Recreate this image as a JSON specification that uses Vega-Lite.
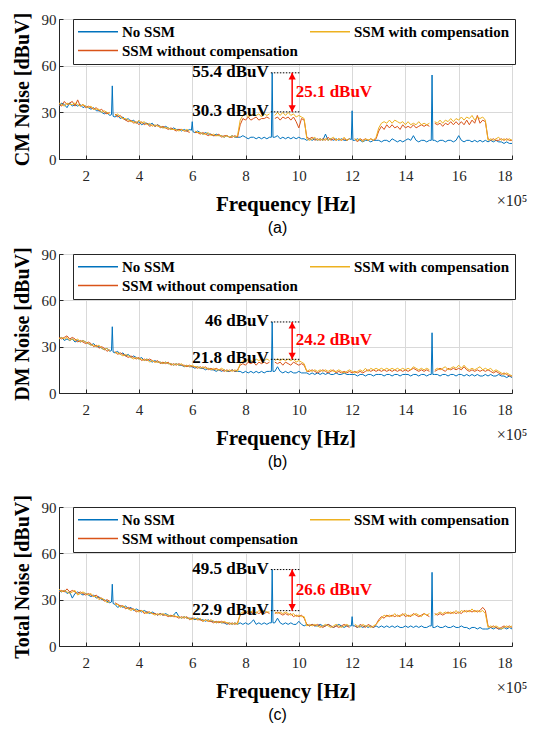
{
"$schema": "https://vega.github.io/schema/vega-lite/v6.json",
"padding": {"left": 11, "top": 11, "right": 2, "bottom": 2},
"config": {
  "font": "Liberation Serif",
  "view": {"stroke": "#262626", "strokeWidth": 1},
  "axis": {"labelFont": "Liberation Serif", "labelFontSize": 15, "labelColor": "#262626", "titleFont": "Liberation Serif", "titleFontWeight": "bold", "titleFontSize": 20, "titleColor": "#000000", "gridColor": "#d9d9d9", "gridWidth": 1, "domainColor": "#262626", "tickColor": "#262626", "tickSize": -4},
  "title": {"font": "Liberation Sans", "fontSize": 16, "fontWeight": "normal", "orient": "bottom", "anchor": "middle", "color": "#000000", "offset": 6, "dx": -8},
  "legend": {"orient": "none", "legendX": 14, "legendY": 0, "direction": "horizontal", "columns": 2, "symbolType": "M-20,0H20", "symbolSize": 4, "symbolOffset": 12.5, "symbolStrokeWidth": 1.5, "labelFont": "Liberation Serif", "labelFontWeight": "bold", "labelFontSize": 15, "labelColor": "#000000", "labelLimit": 300, "labelOffset": 16.5, "fillColor": "#ffffff", "strokeColor": "#262626", "padding": 5, "columnPadding": 9, "rowPadding": 3, "title": null}
},
"datasets": {
"a": [
{"f":1,"n":34,"o":35,"w":36},{"f":1.1,"n":36,"o":34,"w":35},{"f":1.2,"n":35,"o":37,"w":34},{"f":1.3,"n":33,"o":35,"w":36},{"f":1.4,"n":36,"o":36,"w":35},
{"f":1.5,"n":34,"o":37,"w":35},{"f":1.6,"n":35,"o":34,"w":36},{"f":1.7,"n":34,"o":38,"w":35},{"f":1.8,"n":35,"o":34,"w":34},{"f":1.9,"n":33,"o":35,"w":35},
{"f":2,"n":34,"o":33,"w":34},{"f":2.1,"n":33,"o":34,"w":33},{"f":2.2,"n":32,"o":33,"w":34},{"f":2.3,"n":33,"o":32,"w":32},{"f":2.4,"n":31,"o":33,"w":32},
{"f":2.5,"n":31,"o":31,"w":32},{"f":2.6,"n":30,"o":32,"w":30},{"f":2.7,"n":29,"o":30,"w":31},{"f":2.8,"n":30,"o":29,"w":30},{"f":2.9,"n":28,"o":30,"w":29},
{"f":3,"n":47,"o":28,"w":29},{"f":3.1,"n":27,"o":29,"w":28},{"f":3.2,"n":28,"o":27,"w":29},{"f":3.3,"n":26,"o":28,"w":27},{"f":3.4,"n":27,"o":26,"w":26},
{"f":3.5,"n":25,"o":25,"w":26},{"f":3.6,"n":26,"o":24,"w":25},{"f":3.7,"n":24,"o":25,"w":24},{"f":3.8,"n":25,"o":23,"w":24},{"f":3.9,"n":23,"o":24,"w":23},
{"f":4,"n":24,"o":22,"w":25},{"f":4.1,"n":22,"o":24,"w":23},{"f":4.2,"n":23,"o":22,"w":24},{"f":4.3,"n":23,"o":23,"w":22},{"f":4.4,"n":22,"o":21,"w":23},
{"f":4.5,"n":23,"o":22,"w":21},{"f":4.6,"n":21,"o":21,"w":22},{"f":4.7,"n":22,"o":22,"w":21},{"f":4.8,"n":21,"o":20,"w":21},{"f":4.9,"n":20,"o":21,"w":20},
{"f":5,"n":21,"o":20,"w":20},{"f":5.1,"n":20,"o":19,"w":20},{"f":5.2,"n":19,"o":20,"w":19},{"f":5.3,"n":20,"o":19,"w":19},{"f":5.4,"n":19,"o":18,"w":19},
{"f":5.5,"n":19,"o":19,"w":18},{"f":5.6,"n":18,"o":19,"w":19},{"f":5.7,"n":19,"o":18,"w":18},{"f":5.8,"n":18,"o":18,"w":19},{"f":5.9,"n":19,"o":17,"w":18},
{"f":6,"n":24,"o":18,"w":17},{"f":6.1,"n":17,"o":17,"w":18},{"f":6.2,"n":18,"o":17,"w":17},{"f":6.3,"n":17,"o":16,"w":17},{"f":6.4,"n":16,"o":17,"w":16},
{"f":6.5,"n":17,"o":16,"w":16},{"f":6.6,"n":16,"o":15,"w":17},{"f":6.7,"n":16,"o":16,"w":15},{"f":6.8,"n":15,"o":15,"w":16},{"f":6.9,"n":16,"o":15,"w":15},
{"f":7,"n":15,"o":16,"w":15},{"f":7.1,"n":15,"o":14,"w":15},{"f":7.2,"n":14,"o":15,"w":14},{"f":7.3,"n":15,"o":15,"w":15},{"f":7.4,"n":14,"o":14,"w":14},
{"f":7.5,"n":15,"o":14,"w":15},{"f":7.6,"n":14,"o":15,"w":14},{"f":7.7,"n":14,"o":14,"w":15},{"f":7.8,"n":14,"o":22,"w":25},{"f":7.9,"n":15,"o":26,"w":28},
{"f":8,"n":14,"o":25,"w":29},{"f":8.1,"n":13,"o":27,"w":27},{"f":8.2,"n":14,"o":25,"w":28},{"f":8.3,"n":14,"o":26,"w":29},{"f":8.4,"n":13,"o":27,"w":28},
{"f":8.5,"n":14,"o":25,"w":29},{"f":8.6,"n":13,"o":26,"w":27},{"f":8.7,"n":14,"o":26,"w":29},{"f":8.8,"n":13,"o":27,"w":28},{"f":8.9,"n":14,"o":26,"w":29},
{"f":9,"n":55.4,"o":27,"w":30},{"f":9.1,"n":14,"o":26,"w":28},{"f":9.2,"n":15,"o":27,"w":30},{"f":9.3,"n":13,"o":25,"w":28},{"f":9.4,"n":14,"o":27,"w":30},
{"f":9.5,"n":13,"o":26,"w":28},{"f":9.6,"n":14,"o":27,"w":30},{"f":9.7,"n":13,"o":25,"w":28},{"f":9.8,"n":14,"o":27,"w":29},{"f":9.9,"n":13,"o":24,"w":27},
{"f":10,"n":14,"o":20,"w":28},{"f":10.1,"n":13,"o":26,"w":27},{"f":10.2,"n":13,"o":25,"w":26},{"f":10.3,"n":12,"o":14,"w":13},{"f":10.4,"n":13,"o":13,"w":12},
{"f":10.5,"n":12,"o":14,"w":13},{"f":10.6,"n":13,"o":12,"w":14},{"f":10.7,"n":12,"o":13,"w":12},{"f":10.8,"n":13,"o":12,"w":13},{"f":10.9,"n":12,"o":13,"w":12},
{"f":11,"n":16,"o":12,"w":13},{"f":11.1,"n":12,"o":14,"w":12},{"f":11.2,"n":13,"o":12,"w":13},{"f":11.3,"n":12,"o":13,"w":14},{"f":11.4,"n":13,"o":12,"w":12},
{"f":11.5,"n":12,"o":13,"w":13},{"f":11.6,"n":13,"o":12,"w":12},{"f":11.7,"n":12,"o":13,"w":14},{"f":11.8,"n":12,"o":12,"w":12},{"f":11.9,"n":13,"o":13,"w":13},
{"f":12,"n":31,"o":12,"w":12},{"f":12.1,"n":12,"o":13,"w":13},{"f":12.2,"n":13,"o":11,"w":12},{"f":12.3,"n":12,"o":13,"w":13},{"f":12.4,"n":11,"o":12,"w":11},
{"f":12.5,"n":12,"o":13,"w":13},{"f":12.6,"n":12,"o":12,"w":12},{"f":12.7,"n":11,"o":13,"w":13},{"f":12.8,"n":12,"o":12,"w":12},{"f":12.9,"n":12,"o":13,"w":14},
{"f":13,"n":12,"o":18,"w":20},{"f":13.1,"n":11,"o":21,"w":23},{"f":13.2,"n":12,"o":19,"w":24},{"f":13.3,"n":12,"o":22,"w":23},{"f":13.4,"n":11,"o":20,"w":25},
{"f":13.5,"n":13,"o":22,"w":23},{"f":13.6,"n":12,"o":20,"w":25},{"f":13.7,"n":11,"o":21,"w":24},{"f":13.8,"n":12,"o":19,"w":23},{"f":13.9,"n":11,"o":22,"w":24},
{"f":14,"n":12,"o":20,"w":22},{"f":14.1,"n":13,"o":21,"w":24},{"f":14.2,"n":12,"o":20,"w":22},{"f":14.3,"n":15,"o":22,"w":23},{"f":14.4,"n":12,"o":20,"w":22},
{"f":14.5,"n":11,"o":21,"w":24},{"f":14.6,"n":12,"o":22,"w":22},{"f":14.7,"n":12,"o":21,"w":23},{"f":14.8,"n":11,"o":22,"w":22},{"f":14.9,"n":12,"o":21,"w":23},
{"f":15,"n":54,"o":22,"w":22},{"f":15.1,"n":12,"o":23,"w":24},{"f":15.2,"n":11,"o":22,"w":23},{"f":15.3,"n":12,"o":23,"w":25},{"f":15.4,"n":12,"o":21,"w":23},
{"f":15.5,"n":11,"o":23,"w":25},{"f":15.6,"n":12,"o":22,"w":24},{"f":15.7,"n":12,"o":24,"w":26},{"f":15.8,"n":11,"o":22,"w":24},{"f":15.9,"n":12,"o":24,"w":26},
{"f":16,"n":15,"o":22,"w":25},{"f":16.1,"n":12,"o":24,"w":27},{"f":16.2,"n":11,"o":22,"w":25},{"f":16.3,"n":12,"o":25,"w":27},{"f":16.4,"n":12,"o":22,"w":26},
{"f":16.5,"n":11,"o":25,"w":28},{"f":16.6,"n":12,"o":23,"w":25},{"f":16.7,"n":11,"o":28,"w":27},{"f":16.8,"n":12,"o":23,"w":26},{"f":16.9,"n":11,"o":25,"w":27},
{"f":17,"n":12,"o":24,"w":25},{"f":17.1,"n":11,"o":13,"w":12},{"f":17.2,"n":12,"o":12,"w":13},{"f":17.3,"n":11,"o":13,"w":12},{"f":17.4,"n":12,"o":12,"w":13},
{"f":17.5,"n":11,"o":12,"w":14},{"f":17.6,"n":11,"o":13,"w":12},{"f":17.7,"n":10,"o":12,"w":13},{"f":17.8,"n":11,"o":13,"w":12},{"f":17.9,"n":10,"o":12,"w":13},
{"f":18,"n":10,"o":12,"w":12},
{"f":2.97,"n":28.5},{"f":3.03,"n":27.5},{"f":5.97,"n":18.5},{"f":6.03,"n":17.5},{"f":8.97,"n":14},{"f":9.03,"n":14},{"f":11.97,"n":12.5},{"f":12.03,"n":12},{"f":14.97,"n":12},{"f":15.03,"n":12}
],
"b": [
{"f":1,"n":35,"o":36,"w":35},{"f":1.1,"n":36,"o":35,"w":36},{"f":1.2,"n":34,"o":36,"w":35},{"f":1.3,"n":35,"o":37,"w":36},{"f":1.4,"n":34,"o":35,"w":34},
{"f":1.5,"n":35,"o":36,"w":35},{"f":1.6,"n":33,"o":35,"w":34},{"f":1.7,"n":34,"o":33,"w":35},{"f":1.8,"n":33,"o":34,"w":33},{"f":1.9,"n":34,"o":33,"w":34},
{"f":2,"n":33,"o":32,"w":33},{"f":2.1,"n":32,"o":33,"w":32},{"f":2.2,"n":31,"o":32,"w":31},{"f":2.3,"n":32,"o":30,"w":31},{"f":2.4,"n":30,"o":31,"w":30},
{"f":2.5,"n":30,"o":29,"w":31},{"f":2.6,"n":29,"o":30,"w":29},{"f":2.7,"n":28,"o":29,"w":28},{"f":2.8,"n":29,"o":27,"w":29},{"f":2.9,"n":27,"o":28,"w":27},
{"f":3,"n":42.9,"o":27,"w":28},{"f":3.1,"n":26,"o":27,"w":26},{"f":3.2,"n":27,"o":25,"w":26},{"f":3.3,"n":25,"o":26,"w":25},{"f":3.4,"n":26,"o":25,"w":24},
{"f":3.5,"n":24,"o":24,"w":25},{"f":3.6,"n":25,"o":23,"w":24},{"f":3.7,"n":23,"o":24,"w":23},{"f":3.8,"n":24,"o":23,"w":22},{"f":3.9,"n":23,"o":22,"w":23},
{"f":4,"n":22,"o":23,"w":22},{"f":4.1,"n":23,"o":21,"w":22},{"f":4.2,"n":21,"o":22,"w":21},{"f":4.3,"n":22,"o":21,"w":22},{"f":4.4,"n":21,"o":22,"w":20},
{"f":4.5,"n":20,"o":21,"w":21},{"f":4.6,"n":21,"o":20,"w":20},{"f":4.7,"n":20,"o":21,"w":20},{"f":4.8,"n":20,"o":19,"w":20},{"f":4.9,"n":19,"o":20,"w":19},
{"f":5,"n":20,"o":19,"w":20},{"f":5.1,"n":19,"o":20,"w":19},{"f":5.2,"n":19,"o":18,"w":19},{"f":5.3,"n":18,"o":19,"w":18},{"f":5.4,"n":19,"o":18,"w":19},
{"f":5.5,"n":18,"o":19,"w":18},{"f":5.6,"n":18,"o":18,"w":19},{"f":5.7,"n":17,"o":18,"w":17},{"f":5.8,"n":18,"o":17,"w":18},{"f":5.9,"n":17,"o":18,"w":17},
{"f":6,"n":17,"o":17,"w":18},{"f":6.1,"n":16,"o":17,"w":17},{"f":6.2,"n":17,"o":16,"w":17},{"f":6.3,"n":16,"o":17,"w":16},{"f":6.4,"n":16,"o":16,"w":17},
{"f":6.5,"n":15,"o":17,"w":16},{"f":6.6,"n":16,"o":15,"w":16},{"f":6.7,"n":15,"o":16,"w":15},{"f":6.8,"n":15,"o":15,"w":16},{"f":6.9,"n":14,"o":16,"w":15},
{"f":7,"n":15,"o":15,"w":15},{"f":7.1,"n":14,"o":15,"w":16},{"f":7.2,"n":15,"o":14,"w":15},{"f":7.3,"n":14,"o":15,"w":14},{"f":7.4,"n":14,"o":14,"w":15},
{"f":7.5,"n":15,"o":15,"w":14},{"f":7.6,"n":14,"o":14,"w":15},{"f":7.7,"n":14,"o":15,"w":14},{"f":7.8,"n":14,"o":18,"w":19},{"f":7.9,"n":13,"o":19,"w":21},
{"f":8,"n":14,"o":18,"w":20},{"f":8.1,"n":13,"o":20,"w":22},{"f":8.2,"n":14,"o":19,"w":21},{"f":8.3,"n":13,"o":20,"w":20},{"f":8.4,"n":14,"o":18,"w":22},
{"f":8.5,"n":13,"o":20,"w":21},{"f":8.6,"n":14,"o":19,"w":22},{"f":8.7,"n":13,"o":20,"w":21},{"f":8.8,"n":14,"o":19,"w":22},{"f":8.9,"n":14,"o":20,"w":21},
{"f":9,"n":46,"o":19,"w":22},{"f":9.1,"n":14,"o":20,"w":21},{"f":9.2,"n":17,"o":19,"w":22},{"f":9.3,"n":14,"o":20,"w":21},{"f":9.4,"n":13,"o":18,"w":22},
{"f":9.5,"n":14,"o":20,"w":21},{"f":9.6,"n":13,"o":19,"w":22},{"f":9.7,"n":14,"o":18,"w":21},{"f":9.8,"n":13,"o":20,"w":22},{"f":9.9,"n":13,"o":19,"w":20},
{"f":10,"n":14,"o":18,"w":21},{"f":10.1,"n":13,"o":19,"w":20},{"f":10.2,"n":13,"o":18,"w":19},{"f":10.3,"n":13,"o":14,"w":14},{"f":10.4,"n":12,"o":14,"w":15},
{"f":10.5,"n":13,"o":15,"w":14},{"f":10.6,"n":12,"o":14,"w":15},{"f":10.7,"n":13,"o":13,"w":14},{"f":10.8,"n":12,"o":14,"w":15},{"f":10.9,"n":13,"o":15,"w":14},
{"f":11,"n":12,"o":14,"w":15},{"f":11.1,"n":13,"o":13,"w":14},{"f":11.2,"n":12,"o":14,"w":15},{"f":11.3,"n":12,"o":15,"w":14},{"f":11.4,"n":13,"o":13,"w":14},
{"f":11.5,"n":12,"o":14,"w":15},{"f":11.6,"n":12,"o":13,"w":14},{"f":11.7,"n":13,"o":14,"w":13},{"f":11.8,"n":12,"o":13,"w":14},{"f":11.9,"n":12,"o":14,"w":15},
{"f":12,"n":12,"o":13,"w":14},{"f":12.1,"n":12,"o":14,"w":13},{"f":12.2,"n":11,"o":13,"w":14},{"f":12.3,"n":12,"o":14,"w":15},{"f":12.4,"n":12,"o":13,"w":14},
{"f":12.5,"n":11,"o":14,"w":16},{"f":12.6,"n":12,"o":15,"w":14},{"f":12.7,"n":12,"o":14,"w":16},{"f":12.8,"n":11,"o":15,"w":15},{"f":12.9,"n":12,"o":14,"w":16},
{"f":13,"n":12,"o":15,"w":15},{"f":13.1,"n":12,"o":14,"w":16},{"f":13.2,"n":11,"o":15,"w":15},{"f":13.3,"n":12,"o":14,"w":16},{"f":13.4,"n":12,"o":15,"w":15},
{"f":13.5,"n":11,"o":14,"w":16},{"f":13.6,"n":12,"o":15,"w":15},{"f":13.7,"n":12,"o":14,"w":16},{"f":13.8,"n":11,"o":15,"w":15},{"f":13.9,"n":12,"o":14,"w":16},
{"f":14,"n":12,"o":15,"w":15},{"f":14.1,"n":12,"o":14,"w":16},{"f":14.2,"n":11,"o":15,"w":15},{"f":14.3,"n":12,"o":16,"w":17},{"f":14.4,"n":12,"o":15,"w":16},
{"f":14.5,"n":11,"o":14,"w":15},{"f":14.6,"n":12,"o":15,"w":16},{"f":14.7,"n":12,"o":14,"w":15},{"f":14.8,"n":11,"o":15,"w":16},{"f":14.9,"n":12,"o":14,"w":15},
{"f":15,"n":39,"o":15,"w":16},{"f":15.1,"n":12,"o":14,"w":15},{"f":15.2,"n":12,"o":15,"w":16},{"f":15.3,"n":11,"o":16,"w":15},{"f":15.4,"n":12,"o":15,"w":16},
{"f":15.5,"n":12,"o":14,"w":17},{"f":15.6,"n":11,"o":16,"w":15},{"f":15.7,"n":12,"o":15,"w":16},{"f":15.8,"n":12,"o":16,"w":17},{"f":15.9,"n":11,"o":15,"w":16},
{"f":16,"n":12,"o":16,"w":18},{"f":16.1,"n":12,"o":15,"w":16},{"f":16.2,"n":11,"o":17,"w":18},{"f":16.3,"n":12,"o":15,"w":16},{"f":16.4,"n":11,"o":14,"w":15},
{"f":16.5,"n":12,"o":15,"w":16},{"f":16.6,"n":11,"o":14,"w":15},{"f":16.7,"n":12,"o":15,"w":16},{"f":16.8,"n":11,"o":14,"w":17},{"f":16.9,"n":11,"o":15,"w":15},
{"f":17,"n":12,"o":14,"w":16},{"f":17.1,"n":11,"o":15,"w":15},{"f":17.2,"n":12,"o":14,"w":16},{"f":17.3,"n":11,"o":13,"w":14},{"f":17.4,"n":11,"o":14,"w":15},
{"f":17.5,"n":12,"o":13,"w":14},{"f":17.6,"n":11,"o":12,"w":13},{"f":17.7,"n":11,"o":13,"w":12},{"f":17.8,"n":10,"o":12,"w":13},{"f":17.9,"n":11,"o":11,"w":12},
{"f":18,"n":10,"o":11,"w":11},
{"f":2.97,"n":27.5},{"f":3.03,"n":26.5},{"f":8.97,"n":14},{"f":9.03,"n":14},{"f":14.97,"n":12},{"f":15.03,"n":12}
],
"c": [
{"f":1,"n":36,"o":35,"w":37},{"f":1.1,"n":35,"o":36,"w":35},{"f":1.2,"n":36,"o":35,"w":36},{"f":1.3,"n":34,"o":37,"w":35},{"f":1.4,"n":35,"o":35,"w":34},
{"f":1.5,"n":31,"o":36,"w":35},{"f":1.6,"n":34,"o":35,"w":36},{"f":1.7,"n":35,"o":34,"w":33},{"f":1.8,"n":34,"o":35,"w":34},{"f":1.9,"n":33,"o":34,"w":35},
{"f":2,"n":34,"o":33,"w":34},{"f":2.1,"n":33,"o":34,"w":33},{"f":2.2,"n":32,"o":33,"w":34},{"f":2.3,"n":33,"o":32,"w":32},{"f":2.4,"n":31,"o":33,"w":32},
{"f":2.5,"n":32,"o":31,"w":30},{"f":2.6,"n":30,"o":31,"w":31},{"f":2.7,"n":30,"o":29,"w":30},{"f":2.8,"n":29,"o":30,"w":28},{"f":2.9,"n":28,"o":29,"w":29},
{"f":3,"n":40,"o":28,"w":28},{"f":3.1,"n":27,"o":28,"w":27},{"f":3.2,"n":25,"o":27,"w":27},{"f":3.3,"n":26,"o":26,"w":25},{"f":3.4,"n":25,"o":26,"w":26},
{"f":3.5,"n":26,"o":24,"w":25},{"f":3.6,"n":24,"o":25,"w":24},{"f":3.7,"n":25,"o":24,"w":23},{"f":3.8,"n":23,"o":24,"w":24},{"f":3.9,"n":24,"o":22,"w":23},
{"f":4,"n":23,"o":23,"w":22},{"f":4.1,"n":22,"o":23,"w":23},{"f":4.2,"n":23,"o":21,"w":22},{"f":4.3,"n":22,"o":22,"w":21},{"f":4.4,"n":21,"o":22,"w":22},
{"f":4.5,"n":22,"o":21,"w":21},{"f":4.6,"n":21,"o":21,"w":20},{"f":4.7,"n":20,"o":20,"w":21},{"f":4.8,"n":21,"o":21,"w":20},{"f":4.9,"n":20,"o":20,"w":21},
{"f":5,"n":21,"o":20,"w":20},{"f":5.1,"n":20,"o":19,"w":20},{"f":5.2,"n":19,"o":20,"w":19},{"f":5.3,"n":20,"o":19,"w":20},{"f":5.4,"n":22,"o":19,"w":19},
{"f":5.5,"n":19,"o":18,"w":19},{"f":5.6,"n":18,"o":19,"w":18},{"f":5.7,"n":19,"o":18,"w":19},{"f":5.8,"n":18,"o":19,"w":18},{"f":5.9,"n":18,"o":17,"w":18},
{"f":6,"n":18,"o":18,"w":17},{"f":6.1,"n":17,"o":18,"w":18},{"f":6.2,"n":18,"o":17,"w":17},{"f":6.3,"n":17,"o":17,"w":18},{"f":6.4,"n":17,"o":16,"w":16},
{"f":6.5,"n":16,"o":17,"w":17},{"f":6.6,"n":17,"o":16,"w":16},{"f":6.7,"n":16,"o":16,"w":17},{"f":6.8,"n":16,"o":15,"w":16},{"f":6.9,"n":15,"o":16,"w":15},
{"f":7,"n":16,"o":15,"w":16},{"f":7.1,"n":15,"o":16,"w":15},{"f":7.2,"n":15,"o":15,"w":16},{"f":7.3,"n":14,"o":15,"w":15},{"f":7.4,"n":15,"o":14,"w":15},
{"f":7.5,"n":14,"o":15,"w":14},{"f":7.6,"n":15,"o":14,"w":15},{"f":7.7,"n":14,"o":15,"w":14},{"f":7.8,"n":15,"o":20,"w":21},{"f":7.9,"n":14,"o":21,"w":22},
{"f":8,"n":15,"o":22,"w":21},{"f":8.1,"n":14,"o":21,"w":23},{"f":8.2,"n":15,"o":22,"w":22},{"f":8.3,"n":17,"o":21,"w":23},{"f":8.4,"n":14,"o":22,"w":21},
{"f":8.5,"n":15,"o":21,"w":23},{"f":8.6,"n":14,"o":22,"w":22},{"f":8.7,"n":15,"o":21,"w":23},{"f":8.8,"n":14,"o":22,"w":22},{"f":8.9,"n":15,"o":21,"w":22},
{"f":9,"n":49.5,"o":22,"w":23},{"f":9.1,"n":15,"o":21,"w":22},{"f":9.2,"n":18,"o":22,"w":21},{"f":9.3,"n":15,"o":21,"w":22},{"f":9.4,"n":14,"o":20,"w":21},
{"f":9.5,"n":15,"o":21,"w":22},{"f":9.6,"n":14,"o":20,"w":21},{"f":9.7,"n":15,"o":21,"w":20},{"f":9.8,"n":14,"o":19,"w":21},{"f":9.9,"n":14,"o":20,"w":19},
{"f":10,"n":16,"o":19,"w":20},{"f":10.1,"n":14,"o":20,"w":19},{"f":10.2,"n":13,"o":18,"w":19},{"f":10.3,"n":14,"o":14,"w":13},{"f":10.4,"n":13,"o":13,"w":14},
{"f":10.5,"n":14,"o":14,"w":13},{"f":10.6,"n":13,"o":13,"w":14},{"f":10.7,"n":13,"o":14,"w":13},{"f":10.8,"n":14,"o":13,"w":12},{"f":10.9,"n":13,"o":12,"w":13},
{"f":11,"n":13,"o":13,"w":14},{"f":11.1,"n":14,"o":14,"w":13},{"f":11.2,"n":13,"o":13,"w":12},{"f":11.3,"n":12,"o":12,"w":13},{"f":11.4,"n":13,"o":13,"w":14},
{"f":11.5,"n":14,"o":12,"w":13},{"f":11.6,"n":13,"o":13,"w":12},{"f":11.7,"n":12,"o":14,"w":13},{"f":11.8,"n":13,"o":13,"w":14},{"f":11.9,"n":13,"o":12,"w":13},
{"f":12,"n":19,"o":13,"w":12},{"f":12.1,"n":13,"o":13,"w":14},{"f":12.2,"n":12,"o":12,"w":13},{"f":12.3,"n":13,"o":14,"w":12},{"f":12.4,"n":12,"o":13,"w":14},
{"f":12.5,"n":13,"o":12,"w":13},{"f":12.6,"n":12,"o":14,"w":13},{"f":12.7,"n":13,"o":13,"w":12},{"f":12.8,"n":12,"o":12,"w":13},{"f":12.9,"n":13,"o":14,"w":14},
{"f":13,"n":12,"o":17,"w":16},{"f":13.1,"n":13,"o":19,"w":18},{"f":13.2,"n":12,"o":18,"w":20},{"f":13.3,"n":13,"o":20,"w":19},{"f":13.4,"n":12,"o":19,"w":20},
{"f":13.5,"n":13,"o":20,"w":19},{"f":13.6,"n":12,"o":19,"w":21},{"f":13.7,"n":13,"o":20,"w":19},{"f":13.8,"n":12,"o":19,"w":20},{"f":13.9,"n":12,"o":21,"w":20},
{"f":14,"n":13,"o":19,"w":21},{"f":14.1,"n":12,"o":20,"w":19},{"f":14.2,"n":13,"o":19,"w":20},{"f":14.3,"n":12,"o":21,"w":20},{"f":14.4,"n":13,"o":20,"w":21},
{"f":14.5,"n":12,"o":19,"w":20},{"f":14.6,"n":13,"o":20,"w":19},{"f":14.7,"n":12,"o":21,"w":21},{"f":14.8,"n":12,"o":20,"w":20},{"f":14.9,"n":13,"o":19,"w":21},
{"f":15,"n":47.7,"o":20,"w":21},{"f":15.1,"n":12,"o":21,"w":20},{"f":15.2,"n":13,"o":20,"w":21},{"f":15.3,"n":12,"o":21,"w":22},{"f":15.4,"n":12,"o":20,"w":21},
{"f":15.5,"n":13,"o":21,"w":22},{"f":15.6,"n":12,"o":22,"w":21},{"f":15.7,"n":12,"o":21,"w":22},{"f":15.8,"n":13,"o":22,"w":21},{"f":15.9,"n":12,"o":21,"w":23},
{"f":16,"n":12,"o":22,"w":21},{"f":16.1,"n":13,"o":21,"w":23},{"f":16.2,"n":12,"o":23,"w":22},{"f":16.3,"n":12,"o":22,"w":23},{"f":16.4,"n":11,"o":23,"w":22},
{"f":16.5,"n":12,"o":22,"w":24},{"f":16.6,"n":12,"o":23,"w":22},{"f":16.7,"n":11,"o":22,"w":23},{"f":16.8,"n":12,"o":23,"w":22},{"f":16.9,"n":11,"o":25,"w":23},
{"f":17,"n":11,"o":23,"w":21},{"f":17.1,"n":11,"o":13,"w":12},{"f":17.2,"n":12,"o":12,"w":13},{"f":17.3,"n":11,"o":13,"w":12},{"f":17.4,"n":12,"o":12,"w":13},
{"f":17.5,"n":11,"o":11,"w":12},{"f":17.6,"n":11,"o":12,"w":11},{"f":17.7,"n":12,"o":13,"w":12},{"f":17.8,"n":11,"o":12,"w":13},{"f":17.9,"n":12,"o":13,"w":12},
{"f":18,"n":11,"o":12,"w":13},
{"f":2.97,"n":28.5},{"f":3.03,"n":27.5},{"f":8.97,"n":15},{"f":9.03,"n":15},{"f":11.97,"n":13},{"f":12.03,"n":13},{"f":14.97,"n":13},{"f":15.03,"n":12}
],
"ann": [
{"p":"a","k":"hi","v":55.4,"t":"55.4 dBuV"},{"p":"a","k":"lo","v":30.3,"t":"30.3 dBuV"},{"p":"a","k":"d","v":42.9,"t":"25.1 dBuV"},
{"p":"b","k":"hi","v":46,"t":"46 dBuV"},{"p":"b","k":"lo","v":21.8,"t":"21.8 dBuV"},{"p":"b","k":"d","v":34,"t":"24.2 dBuV"},
{"p":"c","k":"hi","v":49.5,"t":"49.5 dBuV"},{"p":"c","k":"lo","v":22.9,"t":"22.9 dBuV"},{"p":"c","k":"d","v":36.2,"t":"26.6 dBuV"}
]
},
"spacing": 23,
"resolve": {"scale": {"color": "independent"}},
"vconcat": [
{
"spacing": 9,
"resolve": {"scale": {"color": "independent"}},
"vconcat": [
{
"width": 453, "height": 140,
"title": {"text": "(a)"},
"layer": [
{"data": {"name": "a"}, "transform": [{"fold": ["n","o","w"], "as": ["s","v"]}],
 "mark": {"type": "line", "strokeWidth": 1, "clip": true},
 "encoding": {
  "x": {"field": "f", "type": "quantitative", "scale": {"domain": [1,18], "nice": false}, "axis": {"values": [2,4,6,8,10,12,14,16,18], "title": "Frequency [Hz]", "titlePadding": 10, "labelPadding": 13, "grid": true, "titleFontSize": 21}},
  "y": {"field": "v", "type": "quantitative", "scale": {"domain": [0,90], "nice": false}, "axis": {"values": [0,30,60,90], "title": "CM Noise [dBuV]", "labelPadding": 7, "titlePadding": 9, "grid": true}},
  "color": {"field": "s", "type": "nominal", "scale": {"domain": ["n","w","o"], "range": ["#0072BD","#EDB120","#D95319"]}, "legend": {"labelExpr": "datum.label == 'n' ? 'No SSM' : datum.label == 'w' ? 'SSM with compensation' : 'SSM without compensation'"}}
 }},
{"data": {"name": "ann"}, "transform": [{"filter": "datum.p == 'a' && datum.k != 'd'"}],
 "mark": {"type": "rule", "strokeDash": [1.5,1.5], "color": "#000000", "strokeWidth": 1},
 "encoding": {"x": {"datum": 8.95, "type": "quantitative"}, "x2": {"datum": 10.05}, "y": {"field": "v", "type": "quantitative"}}},
{"data": {"name": "ann"}, "transform": [{"filter": "datum.p == 'a' && datum.k != 'd'"}],
 "mark": {"type": "text", "align": "right", "baseline": "middle", "dx": -2, "dy": -1, "fontSize": 17, "fontWeight": "bold", "font": "Liberation Serif", "color": "#000000"},
 "encoding": {"x": {"datum": 8.95, "type": "quantitative"}, "y": {"field": "v", "type": "quantitative"}, "text": {"field": "t"}}},
{"data": {"name": "ann"}, "transform": [{"filter": "datum.p == 'a' && datum.k != 'd'"}],
 "mark": {"type": "line", "color": "#ff0000", "strokeWidth": 1.5},
 "encoding": {"x": {"datum": 9.75, "type": "quantitative"}, "y": {"field": "v", "type": "quantitative"}}},
{"data": {"name": "ann"}, "transform": [{"filter": "datum.p == 'a' && datum.k == 'hi'"}],
 "mark": {"type": "point", "shape": "M0,0L-1.2,2.2L1.2,2.2Z", "filled": true, "color": "#ff0000", "size": 36, "opacity": 1},
 "encoding": {"x": {"datum": 9.75, "type": "quantitative"}, "y": {"field": "v", "type": "quantitative"}}},
{"data": {"name": "ann"}, "transform": [{"filter": "datum.p == 'a' && datum.k == 'lo'"}],
 "mark": {"type": "point", "shape": "M0,0L-1.2,-2.2L1.2,-2.2Z", "filled": true, "color": "#ff0000", "size": 36, "opacity": 1},
 "encoding": {"x": {"datum": 9.75, "type": "quantitative"}, "y": {"field": "v", "type": "quantitative"}}},
{"data": {"name": "ann"}, "transform": [{"filter": "datum.p == 'a' && datum.k == 'd'"}],
 "mark": {"type": "text", "align": "left", "baseline": "middle", "fontSize": 17, "fontWeight": "bold", "font": "Liberation Serif", "color": "#ff0000"},
 "encoding": {"x": {"datum": 9.88, "type": "quantitative"}, "y": {"field": "v", "type": "quantitative"}, "text": {"field": "t"}}},
{"data": {"values": [{}]},
 "mark": {"type": "text", "align": "center", "baseline": "middle", "dy": 42, "fontSize": 16, "font": "Liberation Serif", "color": "#262626"},
 "encoding": {"x": {"datum": 18, "type": "quantitative"}, "y": {"datum": 0, "type": "quantitative"}, "text": {"value": "×10⁵"}}}
]
},
{
"width": 453, "height": 139,
"title": {"text": "(b)"},
"layer": [
{"data": {"name": "b"}, "transform": [{"fold": ["n","o","w"], "as": ["s","v"]}],
 "mark": {"type": "line", "strokeWidth": 1, "clip": true},
 "encoding": {
  "x": {"field": "f", "type": "quantitative", "scale": {"domain": [1,18], "nice": false}, "axis": {"values": [2,4,6,8,10,12,14,16,18], "title": "Frequency [Hz]", "titlePadding": 10, "labelPadding": 13, "grid": true, "titleFontSize": 21}},
  "y": {"field": "v", "type": "quantitative", "scale": {"domain": [0,90], "nice": false}, "axis": {"values": [0,30,60,90], "title": "DM Noise [dBuV]", "labelPadding": 7, "titlePadding": 9, "grid": true}},
  "color": {"field": "s", "type": "nominal", "scale": {"domain": ["n","w","o"], "range": ["#0072BD","#EDB120","#D95319"]}, "legend": {"labelExpr": "datum.label == 'n' ? 'No SSM' : datum.label == 'w' ? 'SSM with compensation' : 'SSM without compensation'"}}
 }},
{"data": {"name": "ann"}, "transform": [{"filter": "datum.p == 'b' && datum.k != 'd'"}],
 "mark": {"type": "rule", "strokeDash": [1.5,1.5], "color": "#000000", "strokeWidth": 1},
 "encoding": {"x": {"datum": 8.95, "type": "quantitative"}, "x2": {"datum": 10.05}, "y": {"field": "v", "type": "quantitative"}}},
{"data": {"name": "ann"}, "transform": [{"filter": "datum.p == 'b' && datum.k != 'd'"}],
 "mark": {"type": "text", "align": "right", "baseline": "middle", "dx": -2, "dy": -1, "fontSize": 17, "fontWeight": "bold", "font": "Liberation Serif", "color": "#000000"},
 "encoding": {"x": {"datum": 8.95, "type": "quantitative"}, "y": {"field": "v", "type": "quantitative"}, "text": {"field": "t"}}},
{"data": {"name": "ann"}, "transform": [{"filter": "datum.p == 'b' && datum.k != 'd'"}],
 "mark": {"type": "line", "color": "#ff0000", "strokeWidth": 1.5},
 "encoding": {"x": {"datum": 9.75, "type": "quantitative"}, "y": {"field": "v", "type": "quantitative"}}},
{"data": {"name": "ann"}, "transform": [{"filter": "datum.p == 'b' && datum.k == 'hi'"}],
 "mark": {"type": "point", "shape": "M0,0L-1.2,2.2L1.2,2.2Z", "filled": true, "color": "#ff0000", "size": 36, "opacity": 1},
 "encoding": {"x": {"datum": 9.75, "type": "quantitative"}, "y": {"field": "v", "type": "quantitative"}}},
{"data": {"name": "ann"}, "transform": [{"filter": "datum.p == 'b' && datum.k == 'lo'"}],
 "mark": {"type": "point", "shape": "M0,0L-1.2,-2.2L1.2,-2.2Z", "filled": true, "color": "#ff0000", "size": 36, "opacity": 1},
 "encoding": {"x": {"datum": 9.75, "type": "quantitative"}, "y": {"field": "v", "type": "quantitative"}}},
{"data": {"name": "ann"}, "transform": [{"filter": "datum.p == 'b' && datum.k == 'd'"}],
 "mark": {"type": "text", "align": "left", "baseline": "middle", "fontSize": 17, "fontWeight": "bold", "font": "Liberation Serif", "color": "#ff0000"},
 "encoding": {"x": {"datum": 9.88, "type": "quantitative"}, "y": {"field": "v", "type": "quantitative"}, "text": {"field": "t"}}},
{"data": {"values": [{}]},
 "mark": {"type": "text", "align": "center", "baseline": "middle", "dy": 42, "fontSize": 16, "font": "Liberation Serif", "color": "#262626"},
 "encoding": {"x": {"datum": 18, "type": "quantitative"}, "y": {"datum": 0, "type": "quantitative"}, "text": {"value": "×10⁵"}}}
]
}
]
},
{
"width": 453, "height": 139,
"title": {"text": "(c)"},
"layer": [
{"data": {"name": "c"}, "transform": [{"fold": ["n","o","w"], "as": ["s","v"]}],
 "mark": {"type": "line", "strokeWidth": 1, "clip": true},
 "encoding": {
  "x": {"field": "f", "type": "quantitative", "scale": {"domain": [1,18], "nice": false}, "axis": {"values": [2,4,6,8,10,12,14,16,18], "title": "Frequency [Hz]", "titlePadding": 10, "labelPadding": 13, "grid": true, "titleFontSize": 21}},
  "y": {"field": "v", "type": "quantitative", "scale": {"domain": [0,90], "nice": false}, "axis": {"values": [0,30,60,90], "title": "Total Noise [dBuV]", "labelPadding": 7, "titlePadding": 9, "grid": true}},
  "color": {"field": "s", "type": "nominal", "scale": {"domain": ["n","w","o"], "range": ["#0072BD","#EDB120","#D95319"]}, "legend": {"labelExpr": "datum.label == 'n' ? 'No SSM' : datum.label == 'w' ? 'SSM with compensation' : 'SSM without compensation'"}}
 }},
{"data": {"name": "ann"}, "transform": [{"filter": "datum.p == 'c' && datum.k != 'd'"}],
 "mark": {"type": "rule", "strokeDash": [1.5,1.5], "color": "#000000", "strokeWidth": 1},
 "encoding": {"x": {"datum": 8.95, "type": "quantitative"}, "x2": {"datum": 10.05}, "y": {"field": "v", "type": "quantitative"}}},
{"data": {"name": "ann"}, "transform": [{"filter": "datum.p == 'c' && datum.k != 'd'"}],
 "mark": {"type": "text", "align": "right", "baseline": "middle", "dx": -2, "dy": -1, "fontSize": 17, "fontWeight": "bold", "font": "Liberation Serif", "color": "#000000"},
 "encoding": {"x": {"datum": 8.95, "type": "quantitative"}, "y": {"field": "v", "type": "quantitative"}, "text": {"field": "t"}}},
{"data": {"name": "ann"}, "transform": [{"filter": "datum.p == 'c' && datum.k != 'd'"}],
 "mark": {"type": "line", "color": "#ff0000", "strokeWidth": 1.5},
 "encoding": {"x": {"datum": 9.75, "type": "quantitative"}, "y": {"field": "v", "type": "quantitative"}}},
{"data": {"name": "ann"}, "transform": [{"filter": "datum.p == 'c' && datum.k == 'hi'"}],
 "mark": {"type": "point", "shape": "M0,0L-1.2,2.2L1.2,2.2Z", "filled": true, "color": "#ff0000", "size": 36, "opacity": 1},
 "encoding": {"x": {"datum": 9.75, "type": "quantitative"}, "y": {"field": "v", "type": "quantitative"}}},
{"data": {"name": "ann"}, "transform": [{"filter": "datum.p == 'c' && datum.k == 'lo'"}],
 "mark": {"type": "point", "shape": "M0,0L-1.2,-2.2L1.2,-2.2Z", "filled": true, "color": "#ff0000", "size": 36, "opacity": 1},
 "encoding": {"x": {"datum": 9.75, "type": "quantitative"}, "y": {"field": "v", "type": "quantitative"}}},
{"data": {"name": "ann"}, "transform": [{"filter": "datum.p == 'c' && datum.k == 'd'"}],
 "mark": {"type": "text", "align": "left", "baseline": "middle", "fontSize": 17, "fontWeight": "bold", "font": "Liberation Serif", "color": "#ff0000"},
 "encoding": {"x": {"datum": 9.88, "type": "quantitative"}, "y": {"field": "v", "type": "quantitative"}, "text": {"field": "t"}}},
{"data": {"values": [{}]},
 "mark": {"type": "text", "align": "center", "baseline": "middle", "dy": 42, "fontSize": 16, "font": "Liberation Serif", "color": "#262626"},
 "encoding": {"x": {"datum": 18, "type": "quantitative"}, "y": {"datum": 0, "type": "quantitative"}, "text": {"value": "×10⁵"}}}
]
}
]
}
